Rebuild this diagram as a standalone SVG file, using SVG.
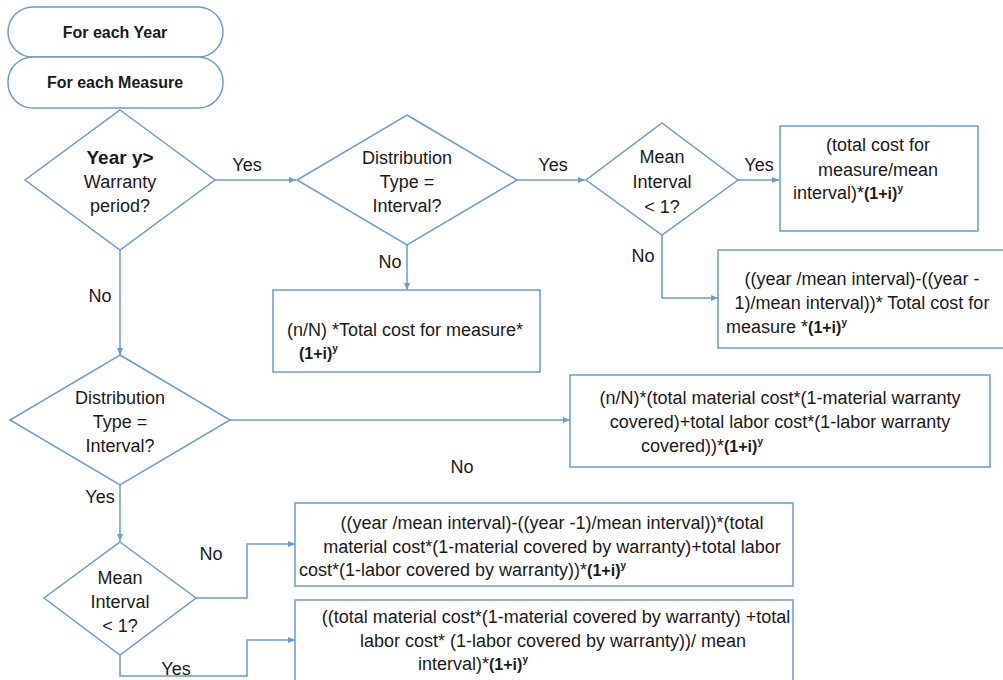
<svg xmlns="http://www.w3.org/2000/svg" width="1003" height="680" viewBox="0 0 1003 680">
<style>
.s{fill:#fff;stroke:#6c9bd2;stroke-width:1.5}
.c{fill:none;stroke:#6c9bd2;stroke-width:1.5}
text{font-family:"Liberation Sans",Arial,sans-serif;font-size:18px;fill:#1a1a1a}
.m{text-anchor:middle}
.b{font-weight:bold}
.h{font-weight:bold;font-size:16px}
.t{font-weight:bold;font-size:16px}
.sup{font-weight:bold;font-size:10px}
</style>
<defs>
<marker id="ah" markerWidth="8" markerHeight="8" refX="7" refY="4" orient="auto" markerUnits="userSpaceOnUse">
<path d="M0,1 L7,4 L0,7 Z" fill="#6c9bd2"/>
</marker>
</defs>
<rect width="1003" height="680" fill="#fff"/>
<g id="connectors">
<path class="c" d="M215,180 H296" marker-end="url(#ah)"/>
<path class="c" d="M517,180 H585" marker-end="url(#ah)"/>
<path class="c" d="M738,180 H779" marker-end="url(#ah)"/>
<path class="c" d="M407,245 V290" marker-end="url(#ah)"/>
<path class="c" d="M662,235 V298 H718" marker-end="url(#ah)"/>
<path class="c" d="M120,250 V355" marker-end="url(#ah)"/>
<path class="c" d="M230,420 H570" marker-end="url(#ah)"/>
<path class="c" d="M120,485 V541" marker-end="url(#ah)"/>
<path class="c" d="M196,598 H247 V544 H295" marker-end="url(#ah)"/>
<path class="c" d="M120,655 V676 H247 V640 H295" marker-end="url(#ah)"/>
<text x="247" y="171" class="m">Yes</text>
<text x="553" y="171" class="m">Yes</text>
<text x="759" y="171" class="m">Yes</text>
<text x="390" y="268" class="m">No</text>
<text x="643" y="262" class="m">No</text>
<text x="100" y="302" class="m">No</text>
<text x="462" y="473" class="m">No</text>
<text x="100" y="503" class="m">Yes</text>
<text x="211" y="560" class="m">No</text>
<text x="176" y="675" class="m">Yes</text>
</g>
<g id="loop-year">
<rect class="s" x="8" y="7" width="215" height="50" rx="25" ry="25"/>
<text x="115" y="38" class="m h">For each Year</text>
</g>
<g id="loop-measure">
<rect class="s" x="8" y="57" width="215" height="51" rx="25" ry="25"/>
<text x="115" y="88" class="m h">For each Measure</text>
</g>
<g id="d-warranty">
<path class="s" d="M120,110 L215,180 L120,250 L25,180 Z"/>
<text x="120" y="164" class="m b" style="font-size:19px">Year y&gt;</text>
<text x="120" y="188" class="m">Warranty</text>
<text x="120" y="212" class="m">period?</text>
</g>
<g id="d-dist1">
<path class="s" d="M407,115 L517,180 L407,245 L297,180 Z"/>
<text x="407" y="164" class="m">Distribution</text>
<text x="407" y="188" class="m">Type =</text>
<text x="407" y="212" class="m">Interval?</text>
</g>
<g id="d-mean1">
<path class="s" d="M662,123 L738,180 L662,235 L586,180 Z"/>
<text x="662" y="163" class="m">Mean</text>
<text x="662" y="188" class="m">Interval</text>
<text x="662" y="213" class="m">&lt; 1?</text>
</g>
<g id="box-nN">
<rect class="s" x="273" y="290" width="267" height="82"/>
<text x="405" y="336" class="m">(n/N) *Total cost for measure*</text>
<text x="299" y="359"><tspan class="t">(1+i)</tspan><tspan class="sup" dy="-7">y</tspan></text>
</g>
<g id="box-total">
<rect class="s" x="780" y="126" width="198" height="105"/>
<text x="878" y="151" class="m">(total cost for</text>
<text x="878" y="176" class="m">measure/mean</text>
<text x="793" y="199">interval)*<tspan class="t">(1+i)</tspan><tspan class="sup" dy="-7">y</tspan></text>
</g>
<g id="box-year">
<rect class="s" x="718" y="250" width="295" height="98"/>
<text x="862" y="285" class="m">((year /mean interval)-((year -</text>
<text x="862" y="309" class="m">1)/mean interval))* Total cost for</text>
<text x="726" y="333">measure *<tspan class="t">(1+i)</tspan><tspan class="sup" dy="-7">y</tspan></text>
</g>
<g id="d-dist2">
<path class="s" d="M120,355 L230,420 L120,485 L10,420 Z"/>
<text x="120" y="404" class="m">Distribution</text>
<text x="120" y="428" class="m">Type =</text>
<text x="120" y="452" class="m">Interval?</text>
</g>
<g id="box-nN2">
<rect class="s" x="570" y="375" width="420" height="92"/>
<text x="780" y="404" class="m">(n/N)*(total material cost*(1-material warranty</text>
<text x="780" y="428" class="m">covered)+total labor cost*(1-labor warranty</text>
<text x="641" y="452">covered))*<tspan class="t">(1+i)</tspan><tspan class="sup" dy="-7">y</tspan></text>
</g>
<g id="d-mean2">
<path class="s" d="M120,542 L196,598 L120,655 L44,598 Z"/>
<text x="120" y="584" class="m">Mean</text>
<text x="120" y="608" class="m">Interval</text>
<text x="120" y="632" class="m">&lt; 1?</text>
</g>
<g id="box-year2">
<rect class="s" x="295" y="503" width="498" height="83"/>
<text x="552" y="529" class="m">((year /mean interval)-((year -1)/mean interval))*(total</text>
<text x="552" y="553" class="m">material cost*(1-material covered by warranty)+total labor</text>
<text x="299" y="576">cost*(1-labor covered by warranty))*<tspan class="t">(1+i)</tspan><tspan class="sup" dy="-7">y</tspan></text>
</g>
<g id="box-total2">
<rect class="s" x="295" y="600" width="498" height="90"/>
<text x="556" y="623" class="m">((total material cost*(1-material covered by warranty) +total</text>
<text x="553" y="647" class="m">labor cost* (1-labor covered by warranty))/ mean</text>
<text x="418" y="670">interval)*<tspan class="t">(1+i)</tspan><tspan class="sup" dy="-7">y</tspan></text>
</g>
</svg>
